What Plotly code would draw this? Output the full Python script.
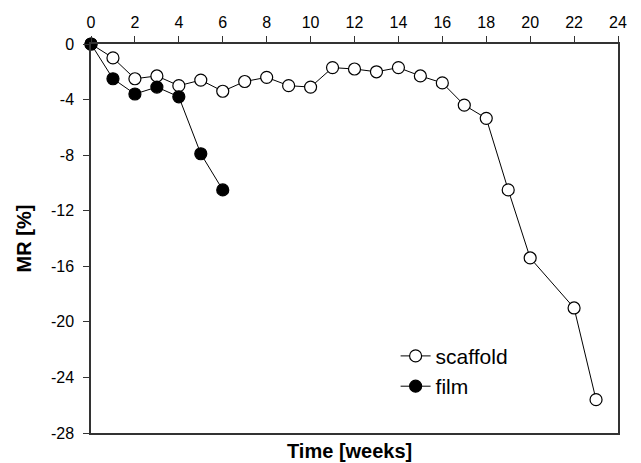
import plotly.graph_objects as go

scaffold_weeks = [0, 1, 2, 3, 4, 5, 6, 7, 8, 9, 10, 11, 12, 13, 14, 15, 16, 17, 18, 19, 20, 22, 23]
scaffold_mr = [0, -1.0, -2.5, -2.3, -3.0, -2.6, -3.4, -2.7, -2.4, -3.0, -3.1, -1.7, -1.8, -2.0, -1.7,
               -2.3, -2.8, -4.4, -5.35, -10.5, -15.4, -19.0, -25.6]
film_weeks = [0, 1, 2, 3, 4, 5, 6]
film_mr = [0, -2.5, -3.6, -3.1, -3.8, -7.9, -10.5]

x_ticks = list(range(0, 25, 2))
y_ticks = list(range(0, -29, -4))

FONT = "Liberation Sans, Arial, sans-serif"

fig = go.Figure()
fig.add_trace(go.Scatter(
    x=scaffold_weeks, y=scaffold_mr, name="scaffold", mode="lines+markers",
    line=dict(color="black", width=1),
    marker=dict(symbol="circle", size=12, color="white", line=dict(color="black", width=1.2)),
    cliponaxis=False,
))
fig.add_trace(go.Scatter(
    x=film_weeks, y=film_mr, name="film", mode="lines+markers",
    line=dict(color="black", width=1),
    marker=dict(symbol="circle", size=12, color="black", line=dict(color="black", width=1.2)),
    cliponaxis=False,
))

fig.update_layout(
    width=641, height=463,
    margin=dict(l=91, r=23, t=44, b=30),
    paper_bgcolor="white", plot_bgcolor="white",
    font=dict(family=FONT, size=16, color="black"),
    showlegend=True,
    legend=dict(x=0.578, y=0.25, xanchor="left", yanchor="top",
                bgcolor="rgba(0,0,0,0)", font=dict(size=21), itemsizing="trace",
                traceorder="normal"),
    xaxis=dict(
        side="top", range=[0, 24], tickvals=x_ticks, ticktext=[str(v) for v in x_ticks],
        ticks="outside", ticklen=6, tickwidth=1.2, tickcolor="#333",
        showline=True, linecolor="#333", linewidth=1.5, mirror=True,
        showgrid=False, zeroline=False, tickfont=dict(size=16), ticklabelstandoff=2,
    ),
    yaxis=dict(
        range=[-28, 0], tickvals=y_ticks, ticktext=[str(v) for v in y_ticks],
        ticks="outside", ticklen=6, tickwidth=1.2, tickcolor="#333",
        showline=True, linecolor="#333", linewidth=1.5, mirror=True,
        showgrid=False, zeroline=False, tickfont=dict(size=16), ticklabelstandoff=6,
        title=dict(text="<b>MR [%]</b>", font=dict(size=20), standoff=14),
    ),
    annotations=[dict(
        text="<b>Time [weeks]</b>", xref="paper", yref="paper", x=0.49, y=0,
        yshift=-5, yanchor="top", showarrow=False, font=dict(size=20),
    )],
)

fig.write_html("out.html")
